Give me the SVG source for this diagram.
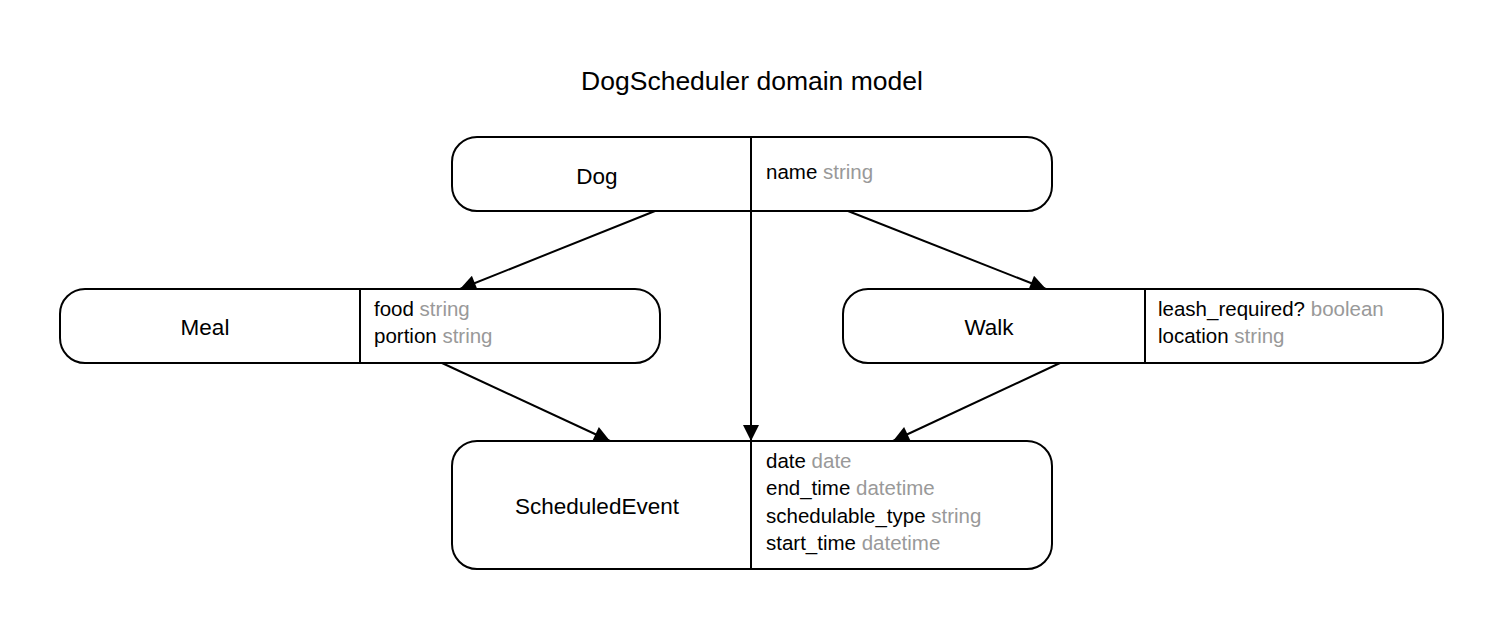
<svg xmlns="http://www.w3.org/2000/svg" width="1504" height="631" viewBox="0 0 1504 631">
<style>
.box{fill:#fff;stroke:#000;stroke-width:2}
.div{stroke:#000;stroke-width:2}
.name{font-family:"Liberation Sans",Arial,sans-serif;font-size:22.5px;fill:#000;text-anchor:middle}
.attr{font-family:"Liberation Sans",Arial,sans-serif;font-size:20.5px;fill:#000}
.t{fill:#999}
.edge{stroke:#000;stroke-width:2;fill:none;marker-end:url(#ah)}
.title{font-family:"Liberation Sans",Arial,sans-serif;font-size:26.5px;fill:#000;text-anchor:middle}
</style>
<defs>
<marker id="ah" viewBox="0 0 10 10" refX="10" refY="5" markerWidth="9" markerHeight="8" markerUnits="strokeWidth" orient="auto">
<path d="M0,0 L10,5 L0,10 z" fill="#000"/>
</marker>
</defs>
<rect width="1504" height="631" fill="#fff"/>
<text class="title" x="752" y="90">DogScheduler domain model</text>
<g id="connectors">
<line class="edge" x1="655" y1="211" x2="460" y2="289"/>
<line class="edge" x1="848" y1="211" x2="1046" y2="289"/>
<line class="edge" x1="751" y1="211" x2="751" y2="441"/>
<line class="edge" x1="442" y1="363" x2="610" y2="441"/>
<line class="edge" x1="1060" y1="363" x2="893" y2="441"/>
</g>
<g id="Dog">
<rect class="box" x="452" y="137" width="600" height="74" rx="25"/>
<line class="div" x1="751" y1="137" x2="751" y2="211"/>
<text class="name" x="597" y="184">Dog</text>
<text class="attr" x="766" y="179">name <tspan class="t">string</tspan></text>
</g>
<g id="Meal">
<rect class="box" x="60" y="289" width="600" height="74" rx="25"/>
<line class="div" x1="360" y1="289" x2="360" y2="363"/>
<text class="name" x="205" y="335">Meal</text>
<text class="attr" x="374" y="316">food <tspan class="t">string</tspan></text>
<text class="attr" x="374" y="343">portion <tspan class="t">string</tspan></text>
</g>
<g id="Walk">
<rect class="box" x="843" y="289" width="600" height="74" rx="25"/>
<line class="div" x1="1145" y1="289" x2="1145" y2="363"/>
<text class="name" x="989" y="335">Walk</text>
<text class="attr" x="1158" y="316">leash_required? <tspan class="t">boolean</tspan></text>
<text class="attr" x="1158" y="343">location <tspan class="t">string</tspan></text>
</g>
<g id="ScheduledEvent">
<rect class="box" x="452" y="441" width="600" height="128" rx="25"/>
<line class="div" x1="751" y1="441" x2="751" y2="569"/>
<text class="name" x="597" y="514">ScheduledEvent</text>
<text class="attr" x="766" y="468">date <tspan class="t">date</tspan></text>
<text class="attr" x="766" y="495">end_time <tspan class="t">datetime</tspan></text>
<text class="attr" x="766" y="523">schedulable_type <tspan class="t">string</tspan></text>
<text class="attr" x="766" y="550">start_time <tspan class="t">datetime</tspan></text>
</g>
</svg>
